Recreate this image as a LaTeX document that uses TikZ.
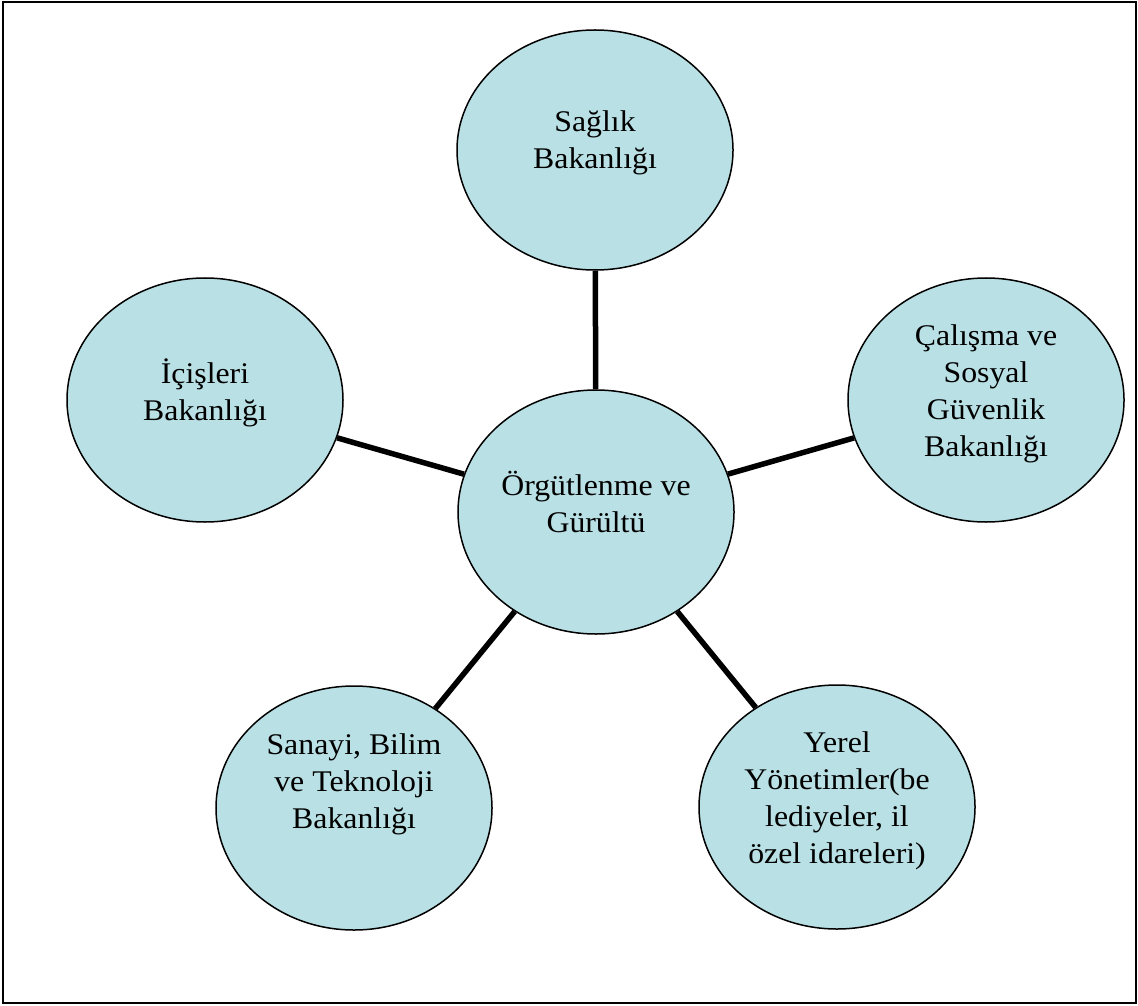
\documentclass[tikz,border=0pt]{standalone}
\usepackage{fontspec}
\setmainfont[FakeStretch=1.06]{Liberation Serif}
\usetikzlibrary{shapes.geometric}
\definecolor{kurum}{RGB}{185,224,228}
\begin{document}
\begin{tikzpicture}[x=0.5pt, y=-0.5pt,
  birim/.style={shape=ellipse, draw=black, line width=0.75pt, fill=kurum,
    minimum width=138pt, minimum height=122pt, inner sep=0pt},
  metin/.style={align=center, font=\fontsize{15}{18.5}\selectfont},
  bag/.style={line width=2.75pt}]
    \useasboundingbox (0,0) rectangle (1138,1005);
    \draw[line width=1pt] (2.5,2.5) rectangle (1135.5,1002.5);
    % merkez ve bakanliklar
    \node[birim, label={[metin, yshift=5pt]center:Örgütlenme ve\\Gürültü}] (merkez) at (596,512) {};
    \node[birim, minimum height=120pt, label={[metin, yshift=3.5pt]center:Sağlık\\Bakanlığı}] (saglik) at (595,150) {};
    \node[birim, label={[metin, yshift=3.5pt]center:İçişleri\\Bakanlığı}] (icisleri) at (205,400) {};
    \node[birim, label={[metin, yshift=3pt]center:Çalışma ve\\Sosyal\\Güvenlik\\Bakanlığı}] (calisma) at (986,400) {};
    \node[birim, label={[metin, yshift=12pt]center:{Sanayi, Bilim\\ve Teknoloji\\Bakanlığı}}] (sanayi) at (354,808) {};
    \node[birim, label={[metin, yshift=3pt]center:{Yerel\\Yönetimler(be\\lediyeler, il\\özel idareleri)}}] (yerel) at (837,807) {};
    % baglantilar
    \draw[bag] (merkez) -- (saglik);
    \draw[bag] (merkez) -- (icisleri);
    \draw[bag] (merkez) -- (calisma);
    \draw[bag] (merkez) -- (sanayi);
    \draw[bag] (merkez) -- (yerel);
\end{tikzpicture}
\end{document}
